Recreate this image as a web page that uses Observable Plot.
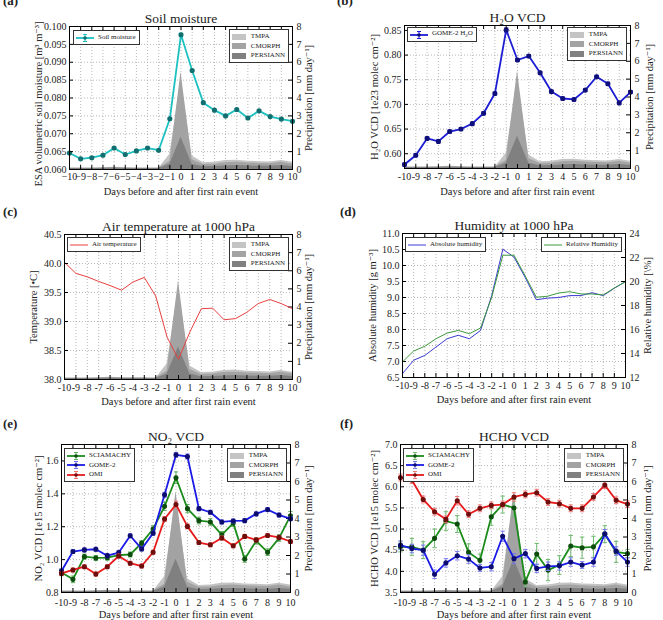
<!DOCTYPE html>
<html><head><meta charset="utf-8">
<script src="https://cdn.jsdelivr.net/npm/d3@7"></script>
<script src="https://cdn.jsdelivr.net/npm/@observablehq/plot@0.6"></script>
<style>
body{margin:0;background:#fff;}
#root{position:relative;width:663px;height:620px;overflow:hidden;font-family:"Liberation Serif","DejaVu Serif",serif;color:#222;}
#root svg{position:absolute;overflow:visible;}
.letter{position:absolute;font-weight:bold;font-size:13px;line-height:13px;}
.legend{position:absolute;border:1px solid #333;background:#fff;font-size:7px;line-height:9.5px;padding:2px 3px 1px 2px;white-space:nowrap;}
.legend .row{display:flex;align-items:center;height:9.5px;}
.legend svg{position:static !important;margin-right:4px;}
.legend .patch{display:inline-block;width:14px;height:6px;margin-right:5px;}
</style></head>
<body><div id="root"></div>
<script>
// ---------- data ----------
const days = [-10,-9,-8,-7,-6,-5,-4,-3,-2,-1,0,1,2,3,4,5,6,7,8,9,10];
const precipTicks = [0,1,2,3,4,5,6,7,8];

const precipTMPA     = [0.06,0.06,0.06,0.07,0.08,0.07,0.06,0.06,0.06,0.85,5.0,0.75,0.38,0.40,0.50,0.52,0.46,0.44,0.42,0.50,0.40];
const precipCMORPH   = [0.08,0.08,0.08,0.10,0.12,0.10,0.09,0.09,0.08,0.45,5.45,0.55,0.28,0.30,0.38,0.40,0.36,0.34,0.32,0.40,0.30];
const precipPERSIANN = [0.05,0.05,0.05,0.06,0.07,0.06,0.05,0.05,0.05,0.30,1.80,0.30,0.15,0.17,0.20,0.22,0.20,0.18,0.18,0.22,0.17];

const soilMoisture = [0.0646,0.0630,0.0633,0.0640,0.0660,0.0642,0.0652,0.0660,0.0654,0.0742,0.0977,0.0877,0.0787,0.0766,0.0750,0.0768,0.0744,0.0764,0.0748,0.0741,0.0735];
const soilErr      = [0.0003,0.0003,0.0003,0.0003,0.0003,0.0003,0.0003,0.0003,0.0003,0.0003,0.0004,0.0003,0.0003,0.0003,0.0003,0.0003,0.0003,0.0003,0.0003,0.0003,0.0003];
const soilTicks = [0.060,0.065,0.070,0.075,0.080,0.085,0.090,0.095,0.100];

const h2oVcd = [0.578,0.597,0.631,0.625,0.645,0.650,0.661,0.682,0.722,0.851,0.790,0.798,0.764,0.726,0.712,0.710,0.729,0.756,0.742,0.703,0.725];
const h2oErr = [0.003,0.003,0.003,0.003,0.003,0.003,0.003,0.003,0.003,0.004,0.003,0.003,0.003,0.003,0.003,0.003,0.003,0.003,0.003,0.003,0.003];
const h2oTicks = [0.60,0.65,0.70,0.75,0.80,0.85];

const airTemp = [40.02,39.83,39.77,39.69,39.62,39.54,39.68,39.76,39.44,38.73,38.35,38.82,39.22,39.23,39.03,39.05,39.16,39.31,39.38,39.31,39.22];
const tempTicks = [38.0,38.5,39.0,39.5,40.0,40.5];

const absHumidity = [6.62,7.04,7.19,7.45,7.71,7.82,7.71,7.97,9.06,10.51,10.26,9.63,8.93,8.98,9.00,9.06,9.06,9.15,9.06,9.29,9.50];
const relHumidity = [13.30,14.21,14.60,15.23,15.70,15.92,15.65,16.12,18.69,22.19,22.19,20.48,18.69,18.77,19.04,19.15,18.96,18.96,18.88,19.46,19.98];
const absTicks = [6.5,7.0,7.5,8.0,8.5,9.0,9.5,10.0,10.5,11.0];
const relTicks = [12,14,16,18,20,22,24];

const no2Sciamachy = [0.922,0.880,1.018,1.010,1.012,1.027,1.031,1.100,1.186,1.324,1.498,1.310,1.237,1.229,1.151,1.222,1.004,1.114,1.045,1.131,1.267];
const no2SciaErr   = [0.02,0.02,0.015,0.015,0.015,0.015,0.015,0.015,0.02,0.025,0.035,0.025,0.02,0.02,0.02,0.02,0.02,0.02,0.02,0.02,0.025];
const no2Gome2     = [0.931,1.049,1.059,1.063,1.024,1.043,1.145,1.065,1.161,1.394,1.637,1.627,1.310,1.288,1.229,1.235,1.237,1.278,1.304,1.271,1.249];
const no2Gome2Err  = [0.012,0.012,0.012,0.012,0.012,0.012,0.012,0.012,0.012,0.015,0.015,0.015,0.012,0.012,0.012,0.012,0.012,0.012,0.012,0.012,0.012];
const no2Omi       = [0.916,0.937,0.957,0.912,0.957,1.022,0.978,0.961,1.045,1.247,1.335,1.202,1.104,1.090,1.131,1.084,1.141,1.120,1.147,1.135,1.110];
const no2OmiErr    = [0.012,0.012,0.012,0.012,0.012,0.012,0.012,0.012,0.012,0.015,0.02,0.015,0.012,0.012,0.012,0.012,0.012,0.012,0.012,0.012,0.012];
const no2Ticks = [0.8,1.0,1.2,1.4,1.6];

const hchoSciamachy = [4.58,4.58,4.50,4.78,5.19,5.12,4.45,4.26,5.29,5.58,5.50,3.75,4.41,4.03,4.15,4.60,4.56,4.58,4.88,4.46,4.42];
const hchoSciaErr   = [0.12,0.20,0.20,0.22,0.22,0.20,0.20,0.15,0.20,0.20,0.20,0.10,0.25,0.25,0.22,0.25,0.25,0.25,0.20,0.25,0.10];
const hchoGome2     = [4.62,4.54,4.50,3.93,4.20,4.37,4.29,4.08,4.11,4.83,4.30,4.42,4.07,4.12,4.13,4.22,4.15,4.22,4.89,4.48,4.22];
const hchoGome2Err  = [0.10,0.10,0.12,0.10,0.10,0.10,0.10,0.08,0.10,0.12,0.12,0.10,0.10,0.10,0.10,0.10,0.08,0.10,0.10,0.10,0.10];
const hchoOmi       = [6.22,6.16,5.70,5.41,5.23,5.67,5.35,5.49,5.56,5.58,5.76,5.82,5.86,5.64,5.60,5.49,5.49,5.76,6.04,5.68,5.59];
const hchoOmiErr    = [0.08,0.08,0.08,0.08,0.08,0.10,0.08,0.08,0.08,0.08,0.10,0.08,0.08,0.08,0.08,0.08,0.08,0.08,0.08,0.08,0.08];
const hchoTicks = [3.5,4.0,4.5,5.0,5.5,6.0,6.5,7.0];

// ---------- styling ----------
const FONT = '"Liberation Serif","DejaVu Serif",serif';
const M = {l: 60, r: 50, t: 30, b: 42};
const C = {tmpa: "#c4c4c4", cmorph: "#a3a3a3", persiann: "#808080"};
const CAP = {draw(ctx, size) { const r = Math.sqrt(size / Math.PI); ctx.moveTo(-r, 0); ctx.lineTo(r, 0); }};
const root = document.getElementById("root");

const rowsOf = (vals, errs) => days.map((d, i) => ({day: d, v: vals[i], e: errs ? errs[i] : 0}));
const xFmtUni = d => d < 0 ? "\u2212" + Math.abs(d) : String(d);
const xFmtHy = d => String(d);

function makePlot(p, yDomain, marks) {
  const svg = Plot.plot({
    width: p.w + M.l + M.r, height: p.h + M.t + M.b,
    marginLeft: M.l, marginRight: M.r, marginTop: M.t, marginBottom: M.b,
    x: {domain: [-10, 10], axis: null},
    y: {domain: yDomain, axis: null},
    style: {background: "transparent", fontFamily: FONT, fontSize: "10px", color: "#222"},
    marks
  });
  svg.style.left = (p.L - M.l) + "px";
  svg.style.top = (p.T - M.t) + "px";
  root.appendChild(svg);
}

function seriesMarks(s) {
  const rows = rowsOf(s.values, s.errs);
  const m = [];
  if (s.errs) {
    const ec = s.errColor || s.color;
    m.push(Plot.ruleX(rows, {x: "day", y1: d => d.v - d.e, y2: d => d.v + d.e, stroke: ec, strokeWidth: 1}));
    m.push(Plot.dot(rows, {x: "day", y: d => d.v + d.e, symbol: CAP, r: 2.2, stroke: ec, fill: "none", strokeWidth: 1}));
    m.push(Plot.dot(rows, {x: "day", y: d => d.v - d.e, symbol: CAP, r: 2.2, stroke: ec, fill: "none", strokeWidth: 1}));
  }
  m.push(Plot.line(rows, {x: "day", y: "v", stroke: s.color, strokeWidth: s.width}));
  if (s.marker) m.push(Plot.dot(rows, {x: "day", y: "v", r: 1.8, fill: s.marker, stroke: s.marker}));
  return m;
}

function yTickMarks(p, ticks, side) {
  return side === "left"
    ? Plot.tickY(ticks, {y: d => d, insetRight: p.w - 4, stroke: "#000"})
    : Plot.tickY(ticks, {y: d => d, insetLeft: p.w - 4, stroke: "#000"});
}

function precipLayer(p) {
  return [
    Plot.areaY(rowsOf(precipTMPA), {x: "day", y: "v", fill: C.tmpa}),
    Plot.areaY(rowsOf(precipCMORPH), {x: "day", y: "v", fill: C.cmorph}),
    Plot.areaY(rowsOf(precipPERSIANN), {x: "day", y: "v", fill: C.persiann}),
    ...rightAxis(p, precipTicks, d => String(d), "Precipitation [mm day\u207B\u00B9]")
  ];
}

function rightAxis(p, ticks, fmt, label) {
  return [
    yTickMarks(p, ticks, "right"),
    Plot.axisY(ticks, {anchor: "right", tickSize: 0, tickPadding: 4, tickFormat: fmt, fontSize: 10, label: null}),
    Plot.text([label], {text: d => d, frameAnchor: "right", dx: p.rdx, rotate: -90, textAnchor: "middle", lineAnchor: "middle", fontSize: 10.5})
  ];
}

function leftAxis(p) {
  return [
    yTickMarks(p, p.leftTicks, "left"),
    Plot.axisY(p.leftTicks, {anchor: "left", tickSize: 0, tickPadding: 3, tickFormat: p.leftFmt, fontSize: 10, label: null}),
    Plot.text([p.leftLabel], {text: d => d, frameAnchor: "left", dx: p.ldx, dy: p.ldy || 0, rotate: -90, textAnchor: "middle", lineAnchor: "middle", fontSize: 10.5})
  ];
}

function frameMarks(p) {
  return [
    Plot.tickX(days, {x: d => d, insetTop: p.h - 4, stroke: "#000"}),
    Plot.tickX(days, {x: d => d, insetBottom: p.h - 4, stroke: "#000"}),
    Plot.axisX(days, {tickSize: 0, tickPadding: p.xPad, tickFormat: p.xFmt, fontSize: 10, label: null}),
    Plot.frame({stroke: "#000", strokeWidth: 1}),
    Plot.text([p.title], {text: d => d, frameAnchor: "top", dy: -8, textAnchor: "middle", lineAnchor: "middle", fontSize: 13.5}),
    Plot.text(["Days before and after first rain event"], {text: d => d, frameAnchor: "bottom", dy: p.xlab, textAnchor: "middle", lineAnchor: "middle", fontSize: 10.5})
  ];
}

function gridMarks(p) {
  return [
    Plot.gridX(days, {stroke: "#9a9a9a", strokeOpacity: 1, strokeDasharray: "1,2", strokeWidth: 0.7}),
    Plot.gridY(p.leftTicks, {stroke: "#9a9a9a", strokeOpacity: 1, strokeDasharray: "1,2", strokeWidth: 0.7})
  ];
}

// ---------- legends ----------
function lineSample(s) {
  const dark = s.marker || s.color;
  let inner = `<line x1="0" y1="4" x2="18" y2="4" stroke="${s.color}" stroke-width="${s.width}"/>`;
  if (s.errs) inner += `<line x1="9" y1="0.5" x2="9" y2="7.5" stroke="${s.errColor || s.color}"/><line x1="7" y1="0.5" x2="11" y2="0.5" stroke="${s.errColor || s.color}"/><line x1="7" y1="7.5" x2="11" y2="7.5" stroke="${s.errColor || s.color}"/>`;
  if (s.marker) inner += `<circle cx="9" cy="4" r="1.8" fill="${dark}"/>`;
  return `<svg width="18" height="8" viewBox="0 0 18 8">${inner}</svg>`;
}
function addLegend(pos, html) {
  const d = document.createElement("div");
  d.className = "legend";
  d.style.left = pos.x + "px"; d.style.top = pos.y + "px";
  if (pos.right != null) { d.style.left = ""; d.style.right = (663 - pos.right) + "px"; }
  d.innerHTML = html;
  root.appendChild(d);
}
const lineLegend = list => list.map(s => `<div class="row">${lineSample(s)}<span>${s.legend}</span></div>`).join("");
const precipLegend = () => [["TMPA", C.tmpa], ["CMORPH", C.cmorph], ["PERSIANN", C.persiann]]
  .map(([n, c]) => `<div class="row"><span class="patch" style="background:${c}"></span><span>${n}</span></div>`).join("");

function addLetter(txt, x, y) {
  const d = document.createElement("div");
  d.className = "letter"; d.textContent = txt;
  d.style.left = x + "px"; d.style.top = y + "px";
  root.appendChild(d);
}

// ---------- panels ----------
const GREEN = "#1b8c1b", BLUE = "#1a1ae6", RED = "#e61a1a";
const panels = [
  {id: "a", L: 69, T: 26, w: 223, h: 143, xFmt: xFmtUni, xPad: 3, xlab: 22, title: "Soil moisture",
   leftLabel: "ESA volumetric soil moisture [m\u00B3 m\u207B\u00B3]", ldx: -31, ldy: 6, rdx: 16,
   leftDomain: [0.060, 0.100], leftTicks: soilTicks, leftFmt: d3.format(".3f"),
   series: [{values: soilMoisture, errs: soilErr, color: "#1cc0c0", marker: "#136f6f", width: 1.8, legend: "Soil moisture"}],
   leg: {x: 73, y: 30}, pleg: {right: 289, y: 29}, letter: [3, -6]},
  {id: "b", L: 404, T: 25, w: 226, h: 143, xFmt: xFmtHy, xPad: 4, xlab: 23, title: "H\u2082O VCD",
   leftLabel: "H\u2082O VCD [1e23 molec cm\u207B\u00B2]", ldx: -30, rdx: 19,
   leftDomain: [0.57, 0.86], leftTicks: h2oTicks, leftFmt: d3.format(".2f"),
   series: [{values: h2oVcd, errs: h2oErr, color: "#1c1cd4", marker: "#10107a", width: 1.8, legend: "GOME-2 H<sub style='font-size:5px'>2</sub>O"}],
   leg: {x: 407, y: 27}, pleg: {right: 627, y: 27}, letter: [337, -6]},
  {id: "c", L: 64, T: 234, w: 228, h: 145, xFmt: xFmtHy, xPad: 4, xlab: 22, title: "Air temperature at 1000 hPa",
   leftLabel: "Temperature [\u2022C]", ldx: -31, rdx: 16,
   leftDomain: [38.0, 40.5], leftTicks: tempTicks, leftFmt: d3.format(".1f"),
   series: [{values: airTemp, color: "#e84040", width: 1, legend: "Air temperature"}],
   leg: {x: 67, y: 237}, pleg: {right: 289, y: 237}, letter: [3, 205]},
  {id: "d", L: 402, T: 233, w: 223, h: 144, xFmt: xFmtHy, xPad: 4, xlab: 22, title: "Humidity at 1000 hPa",
   leftLabel: "Absolute humidity [g m\u207B\u00B3]", ldx: -30, rdx: 22,
   leftDomain: [6.5, 11.0], leftTicks: absTicks, leftFmt: d3.format(".1f"),
   series: [{values: absHumidity, color: "#3a3ad2", width: 1, legend: "Absolute humidity"}],
   rightSeries: {values: relHumidity, color: "#3d9a3d", width: 1, legend: "Relative Humidity"},
   leg: {x: 405, y: 237}, rleg: {right: 622, y: 237}, letter: [340, 205]},
  {id: "e", L: 61, T: 444, w: 229, h: 148, xFmt: xFmtHy, xPad: 6, xlab: 22, title: "NO\u2082 VCD",
   leftLabel: "NO\u2082 VCD [1e15 molec cm\u207B\u00B2]", ldx: -23, rdx: 18,
   leftDomain: [0.8, 1.7], leftTicks: no2Ticks, leftFmt: d3.format(".1f"),
   series: [
     {values: no2Sciamachy, errs: no2SciaErr, color: GREEN, errColor: "#5fb05f", marker: "#0d4d0d", width: 1.8, legend: "SCIAMACHY"},
     {values: no2Gome2, errs: no2Gome2Err, color: BLUE, errColor: "#6f6ff0", marker: "#0d0d70", width: 1.8, legend: "GOME-2"},
     {values: no2Omi, errs: no2OmiErr, color: RED, errColor: "#f07070", marker: "#700d0d", width: 1.8, legend: "OMI"}],
   leg: {x: 64, y: 448}, pleg: {right: 287, y: 448}, letter: [3, 417]},
  {id: "f", L: 400, T: 444, w: 227, h: 148, xFmt: xFmtHy, xPad: 6, xlab: 22, title: "HCHO VCD",
   leftLabel: "HCHO VCD [1e15 molec cm\u207B\u00B2]", ldx: -26, rdx: 20,
   leftDomain: [3.5, 7.0], leftTicks: hchoTicks, leftFmt: d3.format(".1f"),
   series: [
     {values: hchoSciamachy, errs: hchoSciaErr, color: GREEN, errColor: "#6fba6f", marker: "#0d4d0d", width: 1.8, legend: "SCIAMACHY"},
     {values: hchoGome2, errs: hchoGome2Err, color: BLUE, errColor: "#7a7af0", marker: "#0d0d70", width: 1.8, legend: "GOME-2"},
     {values: hchoOmi, errs: hchoOmiErr, color: RED, errColor: "#f07a7a", marker: "#700d0d", width: 1.8, legend: "OMI"}],
   leg: {x: 403, y: 448}, pleg: {right: 624, y: 448}, letter: [340, 417]}
];

for (const p of panels) {
  makePlot(p, p.leftDomain, gridMarks(p));
  if (p.rightSeries) {
    makePlot(p, p.leftDomain, [...p.series.flatMap(seriesMarks), ...leftAxis(p)]);
    makePlot(p, [12, 24], [...seriesMarks(p.rightSeries), ...rightAxis(p, relTicks, d => String(d), "Relative humidity [\\%]"), ...frameMarks(p)]);
  } else {
    makePlot(p, [0, 8], precipLayer(p));
    makePlot(p, p.leftDomain, [...p.series.flatMap(seriesMarks), ...leftAxis(p), ...frameMarks(p)]);
  }
  addLegend(p.leg, lineLegend(p.series));
  if (p.pleg) addLegend(p.pleg, precipLegend());
  if (p.rleg) addLegend(p.rleg, lineLegend([p.rightSeries]));
  addLetter("(" + p.id + ")", p.letter[0], p.letter[1]);
}
</script>
</body></html>
